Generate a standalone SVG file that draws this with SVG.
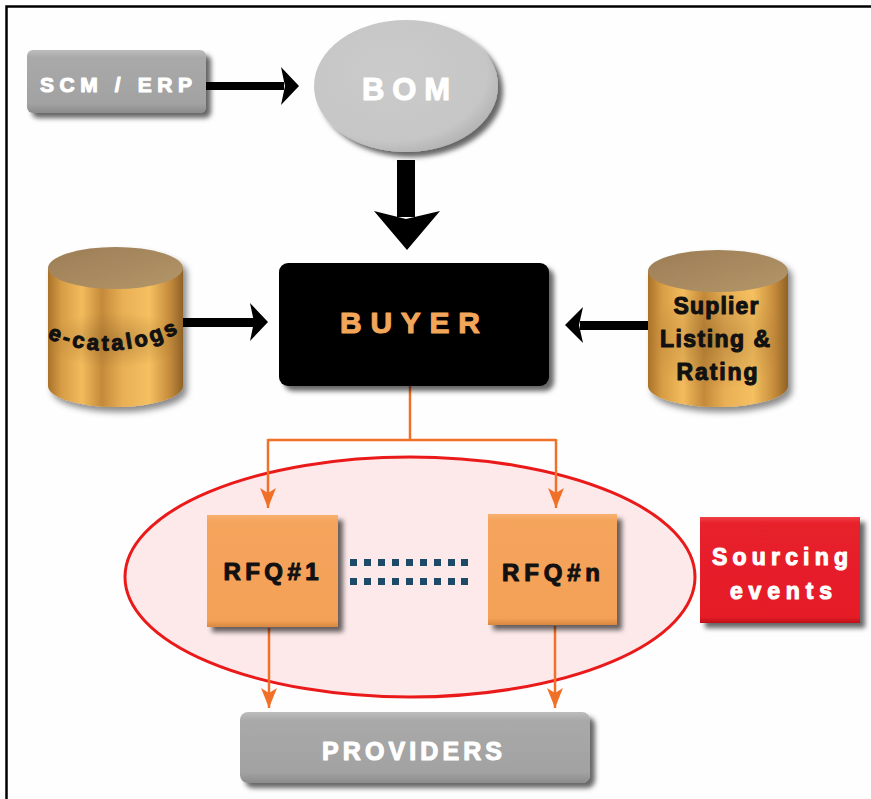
<svg xmlns="http://www.w3.org/2000/svg" width="871" height="799" viewBox="0 0 871 799">
  <defs>
    <style>
      .lbl { font-family: "Liberation Sans", Arial, sans-serif; font-weight: bold; text-anchor: middle; stroke-width: 1.1; stroke-linejoin: round; }
      .white { fill: #ffffff; stroke: #ffffff; }
      .dark { fill: #111111; stroke: #111111; }
      .amber { fill: #f2a65a; stroke: #f2a65a; }
      .orange-line { fill: none; stroke: #f07028; stroke-width: 2.5; }
      .black-arrow { fill: #000000; }
      .dot { fill: #1d4a66; }
    </style>
    <filter id="shadow" x="-20%" y="-20%" width="150%" height="150%">
      <feDropShadow dx="5" dy="5" stdDeviation="2.5" flood-color="#000" flood-opacity="0.6"/>
    </filter>
    <filter id="softShadow" x="-20%" y="-20%" width="150%" height="150%">
      <feDropShadow dx="4" dy="5" stdDeviation="3" flood-color="#000" flood-opacity="0.45"/>
    </filter>
    <linearGradient id="grayBox" x1="0" y1="0" x2="0" y2="1">
      <stop offset="0" stop-color="#bdbdbd"/>
      <stop offset="0.12" stop-color="#a9a9a9"/>
      <stop offset="0.85" stop-color="#a2a2a2"/>
      <stop offset="1" stop-color="#8c8c8c"/>
    </linearGradient>
    <radialGradient id="bomFill" cx="0.42" cy="0.4" r="0.65">
      <stop offset="0" stop-color="#cbcbcb"/>
      <stop offset="0.8" stop-color="#c6c6c6"/>
      <stop offset="1" stop-color="#b0b0b0"/>
    </radialGradient>
    <linearGradient id="gold" x1="0" y1="0" x2="1" y2="0">
      <stop offset="0" stop-color="#a9722a"/>
      <stop offset="0.1" stop-color="#d79c45"/>
      <stop offset="0.25" stop-color="#f3bb5c"/>
      <stop offset="0.4" stop-color="#c48a3a"/>
      <stop offset="0.55" stop-color="#e9af55"/>
      <stop offset="0.75" stop-color="#f5c060"/>
      <stop offset="0.9" stop-color="#c68c3c"/>
      <stop offset="1" stop-color="#8f6226"/>
    </linearGradient>
    <linearGradient id="goldTop" x1="0" y1="0" x2="1" y2="1">
      <stop offset="0" stop-color="#9c7d55"/>
      <stop offset="1" stop-color="#b4966a"/>
    </linearGradient>
    <radialGradient id="goldHaze" cx="0.5" cy="0.5" r="0.5">
      <stop offset="0" stop-color="#7a5420" stop-opacity="0.35"/>
      <stop offset="1" stop-color="#7a5420" stop-opacity="0"/>
    </radialGradient>
    <linearGradient id="rfqFill" x1="0" y1="0" x2="0" y2="1">
      <stop offset="0" stop-color="#f8b070"/>
      <stop offset="0.06" stop-color="#f5a45c"/>
      <stop offset="0.94" stop-color="#f4a158"/>
      <stop offset="1" stop-color="#d88840"/>
    </linearGradient>
    <linearGradient id="redFill" x1="0" y1="0" x2="0" y2="1">
      <stop offset="0" stop-color="#f04048"/>
      <stop offset="0.06" stop-color="#e8202a"/>
      <stop offset="0.94" stop-color="#e51e28"/>
      <stop offset="1" stop-color="#c01018"/>
    </linearGradient>
    <marker id="orangeHead" viewBox="0 0 20 16" refX="20" refY="8" markerWidth="20" markerHeight="16" markerUnits="userSpaceOnUse" orient="auto">
      <path d="M0,0 L20,8 L0,16 L5,8 Z" fill="#f07028"/>
    </marker>
    <path id="catArc" d="M 47 338 Q 115 367 186 329"/>
  </defs>

  <!-- page background and frame edges -->
  <rect x="0" y="0" width="871" height="799" fill="#fefefe"/>
  <path d="M 6.5 799 L 6.5 6.5 L 871 6.5" fill="none" stroke="#000" stroke-width="2.5"/>

  <!-- sourcing events zone -->
  <g id="rfq-zone">
    <ellipse cx="410" cy="577" rx="285" ry="120" fill="#fde9ea" stroke="#ea1a1a" stroke-width="3"/>
  </g>

  <!-- connectors -->
  <g id="connectors">
    <!-- SCM / ERP to BOM -->
    <rect x="206" y="82" width="78" height="8" class="black-arrow"/>
    <polygon points="281,67 299,86 281,105 285,86" class="black-arrow"/>
    <!-- BOM to BUYER -->
    <rect x="397" y="160" width="18" height="57" class="black-arrow"/>
    <polygon points="374,211 406,219 440,211 407,250" class="black-arrow"/>
    <!-- e-catalogs to BUYER -->
    <rect x="182" y="318" width="72" height="9" class="black-arrow"/>
    <polygon points="250,303 268,322 250,341 254,322" class="black-arrow"/>
    <!-- supplier listing to BUYER -->
    <rect x="580" y="321" width="70" height="9" class="black-arrow"/>
    <polygon points="583,307 565,325 583,343 579,325" class="black-arrow"/>
    <!-- BUYER fan-out to RFQs -->
    <path d="M 410 386 L 410 440" class="orange-line"/>
    <path d="M 268 440 L 556 440" class="orange-line"/>
    <path d="M 268 439 L 268 508" class="orange-line" marker-end="url(#orangeHead)"/>
    <path d="M 556 439 L 556 508" class="orange-line" marker-end="url(#orangeHead)"/>
    <!-- RFQs to PROVIDERS -->
    <path d="M 269 628 L 269 708" class="orange-line" marker-end="url(#orangeHead)"/>
    <path d="M 555 626 L 555 708" class="orange-line" marker-end="url(#orangeHead)"/>
    <!-- dotted link between RFQ#1 and RFQ#n -->
    <g id="rfq-link">
      <rect class="dot" x="350" y="559" width="7" height="7"/><rect class="dot" x="364" y="559" width="7" height="7"/>
      <rect class="dot" x="378" y="559" width="7" height="7"/><rect class="dot" x="392" y="559" width="7" height="7"/>
      <rect class="dot" x="406" y="559" width="7" height="7"/><rect class="dot" x="420" y="559" width="7" height="7"/>
      <rect class="dot" x="434" y="559" width="7" height="7"/><rect class="dot" x="448" y="559" width="7" height="7"/>
      <rect class="dot" x="461" y="559" width="7" height="7"/>
      <rect class="dot" x="350" y="578" width="7" height="7"/><rect class="dot" x="364" y="578" width="7" height="7"/>
      <rect class="dot" x="378" y="578" width="7" height="7"/><rect class="dot" x="392" y="578" width="7" height="7"/>
      <rect class="dot" x="406" y="578" width="7" height="7"/><rect class="dot" x="420" y="578" width="7" height="7"/>
      <rect class="dot" x="434" y="578" width="7" height="7"/><rect class="dot" x="448" y="578" width="7" height="7"/>
      <rect class="dot" x="461" y="578" width="7" height="7"/>
    </g>
  </g>

  <!-- SCM / ERP -->
  <g id="scm-erp">
    <rect x="27" y="50" width="179" height="63" rx="6" fill="url(#grayBox)" filter="url(#shadow)"/>
    <text class="lbl white" x="116" y="92" font-size="21" textLength="152" lengthAdjust="spacing">SCM / ERP</text>
  </g>

  <!-- BOM -->
  <g id="bom">
    <ellipse cx="406" cy="86" rx="92" ry="66" fill="url(#bomFill)" filter="url(#shadow)"/>
    <text class="lbl white" x="406" y="100" font-size="31" textLength="88" lengthAdjust="spacing" stroke-width="1.6">BOM</text>
  </g>

  <!-- BUYER -->
  <g id="buyer">
    <rect x="279" y="263" width="270" height="123" rx="9" fill="#000" filter="url(#shadow)"/>
    <text class="lbl amber" x="410" y="333" font-size="30" textLength="140" lengthAdjust="spacing" stroke-width="1.5">BUYER</text>
  </g>

  <!-- e-catalogs store -->
  <g id="e-catalogs">
    <g filter="url(#softShadow)">
      <path d="M 48 268 L 48 386 A 67.5 21 0 0 0 183 386 L 183 268 Z" fill="url(#gold)"/>
      <ellipse cx="115.5" cy="268" rx="67.5" ry="21" fill="url(#goldTop)"/>
    </g>
    <ellipse cx="115" cy="340" rx="70" ry="28" fill="url(#goldHaze)"/>
    <text class="dark" font-family="'Liberation Sans', Arial, sans-serif" font-weight="bold" font-size="22" stroke-width="1" stroke-linejoin="round">
      <textPath href="#catArc" textLength="136" lengthAdjust="spacing">e-catalogs</textPath>
    </text>
  </g>

  <!-- supplier listing & rating store -->
  <g id="supplier-rating">
    <g filter="url(#softShadow)">
      <path d="M 648 271 L 648 386 A 70 21 0 0 0 788 386 L 788 271 Z" fill="url(#gold)"/>
      <ellipse cx="718" cy="271" rx="70" ry="21" fill="url(#goldTop)"/>
    </g>
    <ellipse cx="716" cy="340" rx="70" ry="50" fill="url(#goldHaze)"/>
    <text class="lbl dark" x="716" y="314" font-size="23" textLength="85" lengthAdjust="spacing">Suplier</text>
    <text class="lbl dark" x="715" y="347" font-size="23" textLength="110" lengthAdjust="spacing">Listing &amp;</text>
    <text class="lbl dark" x="717" y="380" font-size="23" textLength="81" lengthAdjust="spacing">Rating</text>
  </g>

  <!-- RFQ#1 -->
  <g id="rfq-1">
    <rect x="207" y="515" width="131" height="112" fill="url(#rfqFill)" filter="url(#shadow)"/>
    <text class="lbl dark" x="271" y="580" font-size="24" textLength="95" lengthAdjust="spacing">RFQ#1</text>
  </g>

  <!-- RFQ#n -->
  <g id="rfq-n">
    <rect x="488" y="514" width="129" height="111" fill="url(#rfqFill)" filter="url(#shadow)"/>
    <text class="lbl dark" x="551" y="581" font-size="24" textLength="98" lengthAdjust="spacing">RFQ#n</text>
  </g>

  <!-- Sourcing events -->
  <g id="sourcing-events">
    <rect x="700" y="517" width="160" height="106" fill="url(#redFill)" filter="url(#shadow)"/>
    <text class="lbl white" x="780" y="565" font-size="23" textLength="136" lengthAdjust="spacing">Sourcing</text>
    <text class="lbl white" x="781" y="599" font-size="23" textLength="102" lengthAdjust="spacing">events</text>
  </g>

  <!-- PROVIDERS -->
  <g id="providers">
    <rect x="240" y="712" width="350" height="71" rx="8" fill="url(#grayBox)" filter="url(#shadow)"/>
    <text class="lbl white" x="412" y="760" font-size="25" textLength="180" lengthAdjust="spacing">PROVIDERS</text>
  </g>
</svg>
